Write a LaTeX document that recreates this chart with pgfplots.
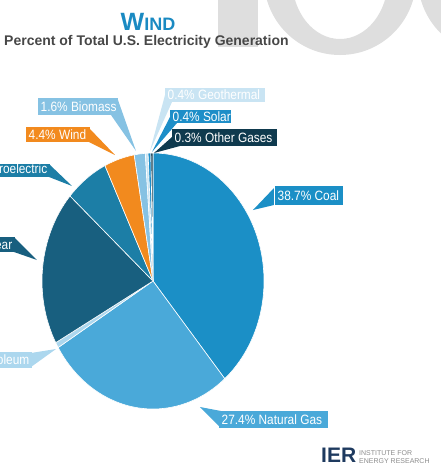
\documentclass[border=0pt]{standalone}
\usepackage{pgfplots}
\pgfplotsset{compat=1.18}
\usepackage{pgfplotstable}
\usepackage{fontspec}
\setmainfont{Liberation Sans}
\newfontfamily\lblfont[FakeStretch=0.88]{Liberation Sans}

\definecolor{cCoal}{HTML}{1B8FC6}
\definecolor{cNaturalGas}{HTML}{4AA9D9}
\definecolor{cPetroleum}{HTML}{ACD7EE}
\definecolor{cNuclear}{HTML}{185F7F}
\definecolor{cHydroelectric}{HTML}{1C7EA6}
\definecolor{cWind}{HTML}{F28A1E}
\definecolor{cBiomass}{HTML}{86C2E3}
\definecolor{cGeothermal}{HTML}{C9E4F3}
\definecolor{cSolar}{HTML}{1D8EC8}
\definecolor{cOtherGases}{HTML}{0F3A4E}
\definecolor{titleblue}{HTML}{1A8AC2}
\definecolor{subgray}{HTML}{474747}
\definecolor{wm}{HTML}{DEDEDE}
\definecolor{iernavy}{HTML}{1E3A5F}
\definecolor{iergray}{HTML}{8C8C8C}

\pgfplotstableread{
source value
Coal 38.7
NaturalGas 27.4
Petroleum 0.7
Nuclear 19.5
Hydroelectric 6.3
Wind 4.4
Biomass 1.6
Geothermal 0.4
Solar 0.4
OtherGases 0.3
}\piedata

% label box: x1 y1 x2 y2 colour text (text left aligned)
\newcommand{\lblW}[6]{%
  \fill[#5] (axis cs:#1,#2) rectangle (axis cs:#3,#4);
  \node[anchor=west, inner sep=0pt, text=white, font=\lblfont\fontsize{13.5}{13.5}\selectfont]
    at (axis cs:#1+2.5,{(#2+#4)/2}) {#6};}
% label box cut on the left: text right aligned
\newcommand{\lblE}[6]{%
  \fill[#5] (axis cs:#1,#2) rectangle (axis cs:#3,#4);
  \node[anchor=east, inner sep=0pt, text=white, font=\lblfont\fontsize{13.5}{13.5}\selectfont]
    at (axis cs:#3-2.5,{(#2+#4)/2}) {#6};}
\newcommand{\ptr}[7]{%
  \fill[#7] (axis cs:#1,#2) -- (axis cs:#3,#4) -- (axis cs:#5,#6) -- cycle;}

\begin{document}
\begin{tikzpicture}
\begin{axis}[hide axis, scale only axis, width=441pt, height=467pt,
  xmin=0, xmax=441, ymin=0, ymax=467, y dir=reverse, clip=false]
  \coordinate (bbA) at (axis cs:0,467);
  \coordinate (bbB) at (axis cs:441,0);
  % watermark
  \fill[wm] (axis cs:218,-5) rectangle (axis cs:258,47);
  \fill[wm, even odd rule] (axis cs:340,-21) circle[radius=76pt]
     (axis cs:340,-21) ellipse[x radius=48pt, y radius=60pt];
  \fill[wm, even odd rule] (axis cs:494,-21) circle[radius=76pt]
     (axis cs:494,-21) ellipse[x radius=48pt, y radius=60pt];
  % titles
  \node[anchor=base, inner sep=0pt, text=titleblue, font=\bfseries]
     at (axis cs:148,30) {\fontsize{25}{25}\selectfont W\fontsize{18}{18}\selectfont IND};
  \node[anchor=base west, inner sep=0pt, text=subgray, font=\bfseries\fontsize{14}{14}\selectfont]
     at (axis cs:4,45) {Percent of Total U.S. Electricity Generation};
  % pie
  \pgfmathsetmacro\cum{0}
  \pgfplotsforeachungrouped \i in {0,...,9}{%
    \pgfplotstablegetelem{\i}{value}\of\piedata \let\sv\pgfplotsretval
    \pgfplotstablegetelem{\i}{source}\of\piedata \let\sn\pgfplotsretval
    \pgfmathsetmacro\sa{90-\cum/99.7*360}%
    \pgfmathsetmacro\cum{\cum+\sv}%
    \pgfmathsetmacro\sb{90-\cum/99.7*360}%
    \edef\temp{\noexpand\fill[c\sn, draw=white, line width=0.6pt, line join=round]
      (axis cs:153,281) -- ++(\sa:111pt and 128pt)
      arc[start angle=\sa, end angle=\sb, x radius=111pt, y radius=128pt] -- cycle;}%
    \temp
  }
  % pointers
  \ptr{165}{95}{172}{102}{150}{151}{cGeothermal}
  \ptr{170}{117}{177}{123}{152}{152}{cSolar}
  \ptr{172}{137}{180}{146}{154}{153}{cOtherGases}
  \ptr{111}{115}{118}{100}{136}{151}{cBiomass}
  \ptr{89}{128}{89}{142}{115}{155}{cWind}
  \ptr{49}{164}{49}{177}{72}{186}{cHydroelectric}
  \ptr{14}{237}{14}{252}{37}{260}{cNuclear}
  \ptr{31}{353}{31}{367}{56}{349}{cPetroleum}
  \ptr{274}{188}{274}{205}{253}{210}{cCoal}
  \ptr{221}{411}{221}{428}{200}{407}{cNaturalGas}
  % labels
  \lblW{165}{88}{265}{102}{cGeothermal}{0.4\% Geothermal}
  \lblW{170}{110}{231}{123}{cSolar}{0.4\% Solar}
  \lblW{172}{129}{277}{146}{cOtherGases}{0.3\% Other Gases}
  \lblW{38}{98}{118}{115}{cBiomass}{1.6\% Biomass}
  \lblW{26}{127}{90}{142}{cWind}{4.4\% Wind}
  \lblE{-100}{164}{50}{177}{cHydroelectric}{6.3\% Hydroelectric}
  \lblE{-100}{237}{15}{252}{cNuclear}{19.5\% Nuclear}
  \lblE{-100}{352}{32}{368}{cPetroleum}{0.7\% Petroleum}
  \lblW{275}{186}{343}{205}{cCoal}{38.7\% Coal}
  \lblW{219}{411}{328}{428}{cNaturalGas}{27.4\% Natural Gas}
  % logo
  \node[anchor=base west, inner sep=0pt, text=iernavy, font=\bfseries\fontsize{21}{21}\selectfont]
     at (axis cs:321,462) {IER};
  \node[anchor=base west, inner sep=0pt, text=iergray, font=\fontsize{7}{7}\selectfont]
     at (axis cs:359,455) {INSTITUTE FOR};
  \node[anchor=base west, inner sep=0pt, text=iergray, font=\fontsize{7}{7}\selectfont]
     at (axis cs:359,463) {ENERGY RESEARCH};
\end{axis}
\pgfresetboundingbox
\useasboundingbox (bbA) rectangle (bbB);
\end{tikzpicture}
\end{document}
